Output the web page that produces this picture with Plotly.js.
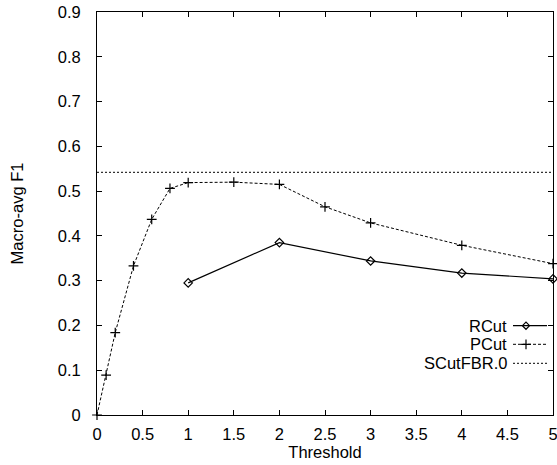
<!DOCTYPE html>
<html>
<head>
<meta charset="utf-8">
<script src="https://cdn.plot.ly/plotly-3.0.1.min.js"></script>
<style>html,body{margin:0;padding:0;background:#fff;}#chart{width:557px;height:465px;}</style>
</head>
<body>
<div id="chart"></div>
<script>
const rcutX = [1, 2, 3, 4, 5];
const rcutY = [0.295, 0.385, 0.344, 0.317, 0.304];
const pcutX = [0, 0.1, 0.2, 0.4, 0.6, 0.8, 1, 1.5, 2, 2.5, 3, 4, 5];
const pcutY = [0, 0.089, 0.184, 0.333, 0.437, 0.506, 0.519, 0.520, 0.515, 0.465, 0.429, 0.379, 0.338];
const scutX = [0, 5];
const scutY = [0.542, 0.542];
const seriesNames = ["RCut", "PCut", "SCutFBR.0"];
const xTickStep = 0.5;
const yTickStep = 0.1;

const font = {family: "Liberation Sans, Arial, sans-serif", size: 16.5, color: "#000"};

const traces = [
  {x: rcutX, y: rcutY, name: seriesNames[0], mode: "lines+markers", cliponaxis: false,
   line: {color: "#000", width: 1.2},
   marker: {symbol: "diamond-open", size: 6.5, color: "#000", line: {width: 1.2, color: "#000"}}},
  {x: pcutX, y: pcutY, name: seriesNames[1], mode: "lines+markers", cliponaxis: false,
   line: {color: "#000", width: 1, dash: "3px,2px"},
   marker: {symbol: "cross-thin-open", size: 7, color: "#000", line: {width: 1.2, color: "#000"}}},
  {x: scutX, y: scutY, name: seriesNames[2], mode: "lines",
   line: {color: "#000", width: 1, dash: "2px,2px"}}
];

const axisCommon = {
  showgrid: false, zeroline: false, showline: true, linecolor: "#000", linewidth: 1,
  mirror: "allticks", ticks: "inside", ticklen: 5, tickcolor: "#000", tickwidth: 1,
  tickfont: font, ticklabeloverflow: "allow", tickmode: "linear", tick0: 0
};

// custom legend (text to the left of sample)
const annotations = [];
const shapes = [];
const px2x = p => (p - 97) / 456;
const py2y = p => (415 - p) / 403;
const legRows = [325.7, 344.3, 363.3];
const legDash = ["solid", "3px,2px", "2px,2px"];
legRows.forEach((py, i) => {
  annotations.push({xref: "paper", yref: "paper", x: px2x(509), y: py2y(py), xanchor: "right", yanchor: "middle",
    text: seriesNames[i], showarrow: false, font: font});
  shapes.push({type: "line", xref: "paper", yref: "paper", x0: px2x(513), x1: px2x(547), y0: py2y(py), y1: py2y(py),
    line: {color: "#000", width: i === 0 ? 1.2 : 1, dash: legDash[i]}});
});
// legend sample markers
traces.push({x: [px2x(526)], y: [py2y(legRows[0])], xaxis: "x2", yaxis: "y2", mode: "markers", hoverinfo: "skip", showlegend: false, cliponaxis: false,
  marker: {symbol: "diamond-open", size: 5.5, color: "#000", line: {width: 1.2, color: "#000"}}});
traces.push({x: [px2x(526)], y: [py2y(legRows[1])], xaxis: "x2", yaxis: "y2", mode: "markers", hoverinfo: "skip", showlegend: false, cliponaxis: false,
  marker: {symbol: "cross-thin-open", size: 7, color: "#000", line: {width: 1.2, color: "#000"}}});

const layout = {
  width: 557, height: 465,
  margin: {l: 97, r: 4, t: 12, b: 50},
  paper_bgcolor: "#fff", plot_bgcolor: "#fff",
  showlegend: false,
  font: font,
  xaxis: Object.assign({}, axisCommon, {range: [0, 5], dtick: xTickStep,
    ticklabelstandoff: 4,
    title: {text: "Threshold", font: font, standoff: 0}}),
  yaxis: Object.assign({}, axisCommon, {range: [0, 0.9], dtick: yTickStep,
    ticklabelstandoff: 12,
    title: {text: "Macro-avg F1", font: font, standoff: 29}}),
  xaxis2: {overlaying: "x", range: [0, 1], visible: false, fixedrange: true},
  yaxis2: {overlaying: "y", range: [0, 1], visible: false, fixedrange: true},
  annotations: annotations,
  shapes: shapes
};

Plotly.newPlot("chart", traces, layout, {staticPlot: true, displayModeBar: false});
</script>
</body>
</html>
